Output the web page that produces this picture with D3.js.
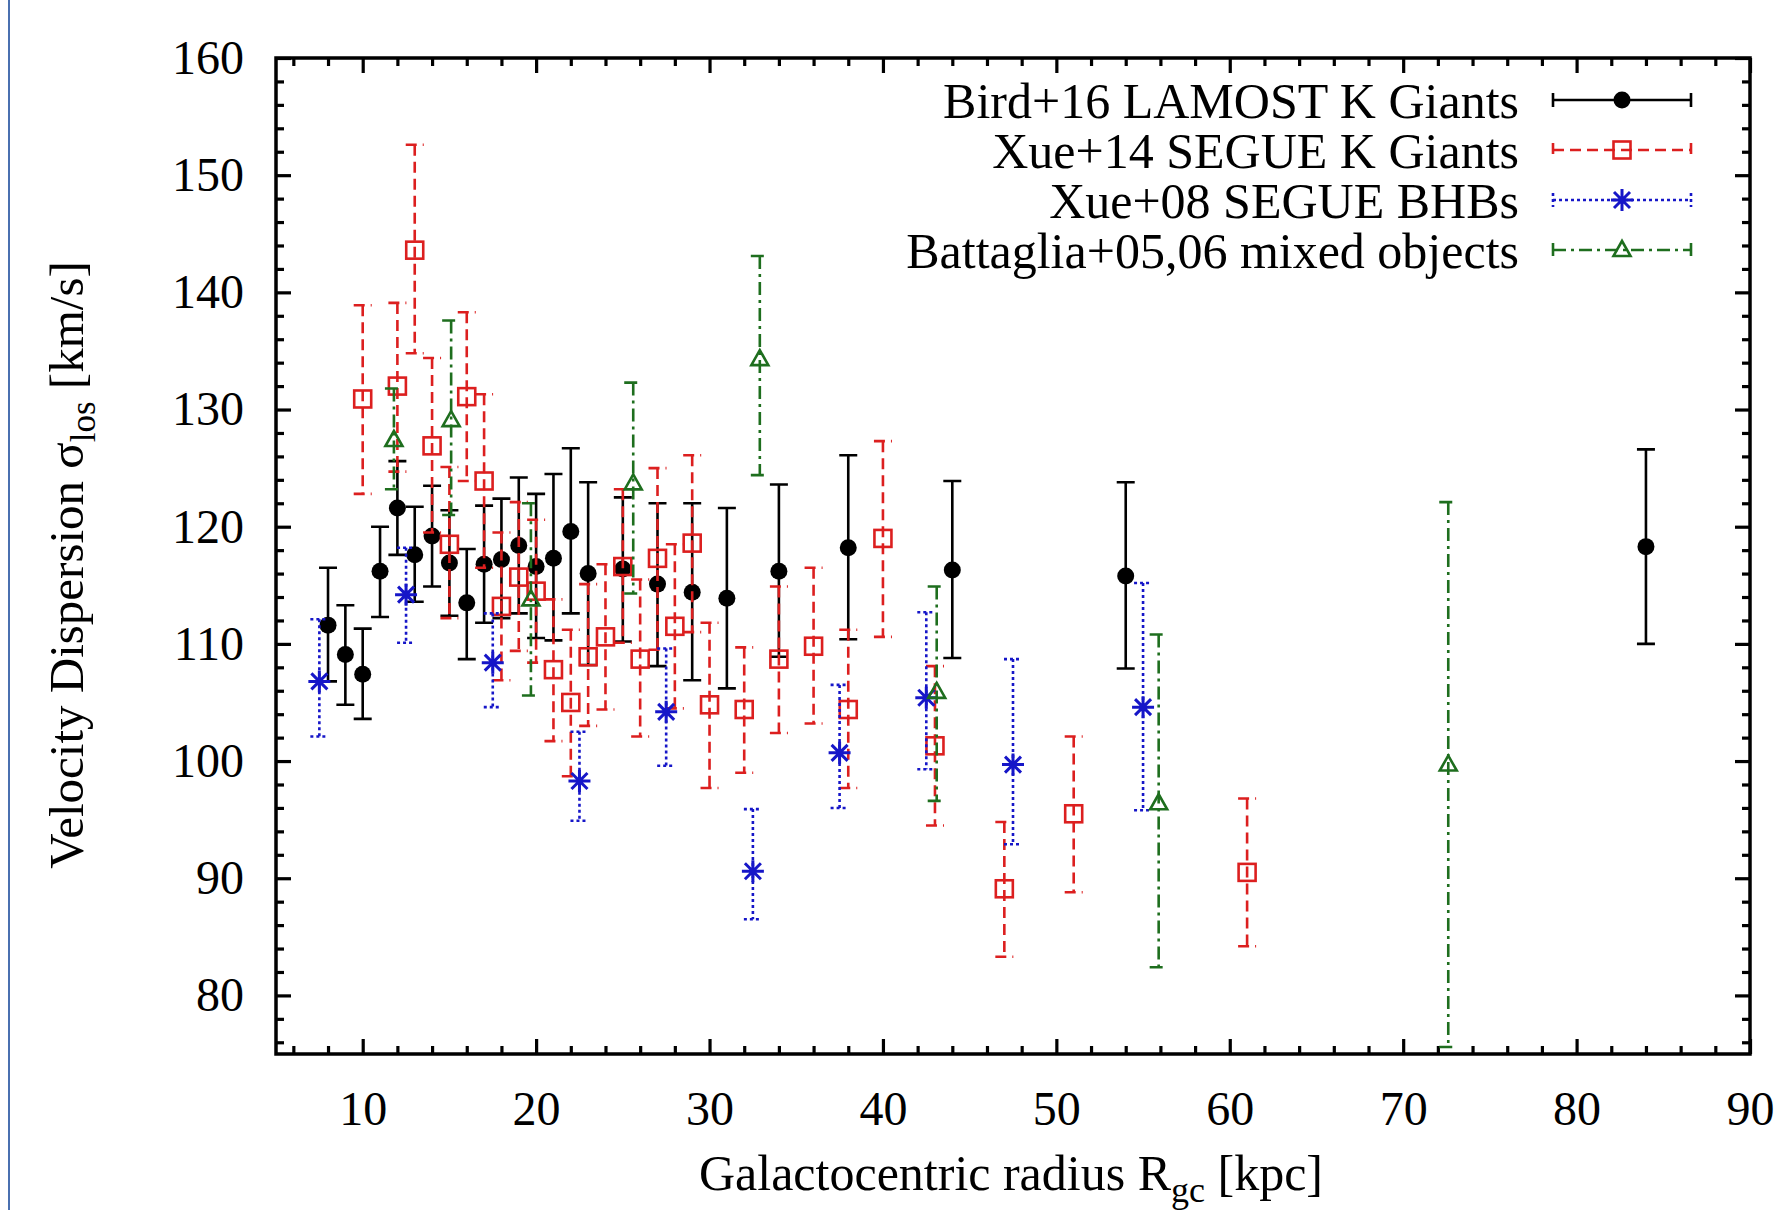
<!DOCTYPE html>
<html>
<head>
<meta charset="utf-8">
<script src="https://cdnjs.cloudflare.com/ajax/libs/d3/7.8.5/d3.min.js"></script>
<style>
body { margin: 0; background: #fff; }
text { font-family: "Liberation Serif", "Times New Roman", "DejaVu Serif", serif; }
</style>
</head>
<body>
<script>
//Width and height
var w = 1780;
var h = 1210;
var margin = {left: 276, right: 30, top: 58, bottom: 156};

//Bird+16 LAMOST K Giants
var birdR  = [8, 9, 10, 11, 12, 13, 14, 15, 16, 17, 18, 19, 20, 21, 22, 23, 25, 27, 29, 31, 34, 38, 44, 54, 84];
var birdS  = [111.6, 109.1, 107.4, 116.2, 121.6, 117.6, 119.2, 116.9, 113.5, 116.8, 117.2, 118.4, 116.6, 117.3, 119.6, 116.0, 116.4, 115.1, 114.4, 113.9, 116.2, 118.2, 116.3, 115.8, 118.3];
var birdHi = [116.5, 113.3, 111.3, 120.0, 125.6, 121.7, 123.5, 121.4, 118.1, 121.8, 122.4, 124.2, 122.8, 124.5, 126.7, 123.8, 122.5, 122.0, 122.0, 121.6, 123.6, 126.1, 123.9, 123.8, 126.6];
var birdLo = [106.8, 104.8, 103.6, 112.3, 117.6, 113.6, 114.9, 112.4, 108.7, 111.8, 112.2, 112.6, 110.5, 110.3, 112.6, 108.2, 110.2, 108.1, 106.9, 106.2, 108.9, 110.4, 108.8, 107.9, 110.0];

//Xue+14 SEGUE K Giants
var xue14R  = [10, 12, 13, 14, 15, 16, 17, 18, 19, 20, 21, 22, 23, 24, 25, 26, 27, 28, 29, 30, 32, 34, 36, 38, 40, 43, 47, 51, 61];
var xue14S  = [130.9, 132.0, 143.6, 126.9, 118.5, 131.1, 123.9, 113.2, 115.7, 114.5, 107.8, 105.0, 108.9, 110.6, 116.6, 108.7, 117.3, 111.5, 118.6, 104.8, 104.4, 108.7, 109.8, 104.4, 119.0, 101.3, 89.1, 95.5, 90.5];
var xue14Hi = [138.9, 139.1, 152.6, 134.4, 125.1, 138.3, 131.3, 119.5, 122.1, 120.6, 113.8, 111.2, 115.1, 116.8, 123.2, 115.5, 125.0, 118.5, 126.1, 111.8, 109.7, 114.9, 116.5, 111.2, 127.3, 108.1, 94.8, 102.1, 96.8];
var xue14Lo = [122.8, 124.7, 134.8, 119.5, 112.2, 123.9, 116.5, 106.9, 109.4, 108.4, 101.7, 98.7, 103.0, 104.4, 110.1, 102.1, 109.5, 104.5, 111.0, 97.7, 99.0, 102.4, 103.2, 97.7, 110.6, 94.5, 83.3, 88.8, 84.2];

//Xue+08 SEGUE BHBs
var xue08R  = [7.5, 12.5, 17.5, 22.5, 27.5, 32.5, 37.5, 42.5, 47.5, 55];
var xue08S  = [106.8, 114.2, 108.4, 98.3, 104.2, 90.6, 100.7, 105.4, 99.7, 104.6];
var xue08Hi = [112.1, 118.2, 112.6, 102.5, 109.6, 95.9, 106.5, 112.7, 108.7, 115.2];
var xue08Lo = [102.1, 110.1, 104.6, 94.9, 99.6, 86.5, 96.0, 99.3, 92.9, 95.8];

//Battaglia+05,06 mixed objects
var battR  = [11.8, 15.1, 19.7, 25.6, 32.9, 43.1, 55.9, 72.6];
var battS  = [127.4, 129.1, 113.8, 123.7, 134.3, 105.9, 96.4, 99.7];
var battHi = [131.8, 137.6, 122.0, 132.3, 143.1, 114.9, 110.8, 122.1];
var battLo = [123.2, 121.0, 105.6, 114.3, 124.4, 96.6, 82.4, 75.6];

var legendLabels = ["Bird+16 LAMOST K Giants", "Xue+14 SEGUE K Giants", "Xue+08 SEGUE BHBs", "Battaglia+05,06 mixed objects"];

var xTicks = [10, 20, 30, 40, 50, 60, 70, 80, 90];
var yTicks = [80, 90, 100, 110, 120, 130, 140, 150, 160];
var xMinor = [6, 8, 12, 14, 16, 18, 22, 24, 26, 28, 32, 34, 36, 38, 42, 44, 46, 48, 52, 54, 56, 58, 62, 64, 66, 68, 72, 74, 76, 78, 82, 84, 86, 88];
var yMinor = [76, 78, 82, 84, 86, 88, 92, 94, 96, 98, 102, 104, 106, 108, 112, 114, 116, 118, 122, 124, 126, 128, 132, 134, 136, 138, 142, 144, 146, 148, 152, 154, 156, 158];

var xScale = d3.scaleLinear()
    .domain([5, 90])
    .range([margin.left, w - margin.right]);

var yScale = d3.scaleLinear()
    .domain([75, 160])
    .range([h - margin.bottom, margin.top]);

var x0 = xScale.range()[0], x1 = xScale.range()[1];
var y0 = yScale.range()[0], y1 = yScale.range()[1];

//Create SVG element
var svg = d3.select("body")
    .append("svg")
    .attr("width", w)
    .attr("height", h);

svg.append("rect").attr("width", w).attr("height", h).attr("fill", "#fff");

//blue page border on the left
svg.append("line")
    .attr("x1", 9).attr("x2", 9)
    .attr("y1", 0).attr("y2", h)
    .attr("stroke", "#4a70b0")
    .attr("stroke-width", 2);

svg.append("clipPath").attr("id", "plotclip")
    .append("rect")
    .attr("x", x0).attr("y", y1)
    .attr("width", x1 - x0).attr("height", y0 - y1);

//axes: inward ticks on all four sides
function styleAxis(g) {
    g.select(".domain").remove();
    g.selectAll(".tick line").attr("stroke", "#000").attr("stroke-width", 3.2);
    g.selectAll("text")
        .attr("fill", "#000")
        .attr("font-size", 48)
        .attr("font-family", "Liberation Serif, Times New Roman, serif");
}

svg.append("g")
    .attr("transform", "translate(0," + y0 + ")")
    .call(d3.axisBottom(xScale).tickValues(xTicks).tickSize(-15).tickPadding(37).tickFormat(d3.format("d")))
    .call(styleAxis);
svg.append("g")
    .attr("transform", "translate(0," + y0 + ")")
    .call(d3.axisBottom(xScale).tickValues(xMinor).tickSize(-8).tickFormat(""))
    .call(styleAxis);
svg.append("g")
    .attr("transform", "translate(0," + y1 + ")")
    .call(d3.axisTop(xScale).tickValues(xTicks).tickSize(-15).tickFormat(""))
    .call(styleAxis);
svg.append("g")
    .attr("transform", "translate(0," + y1 + ")")
    .call(d3.axisTop(xScale).tickValues(xMinor).tickSize(-8).tickFormat(""))
    .call(styleAxis);

svg.append("g")
    .attr("transform", "translate(" + x0 + ",0)")
    .call(d3.axisLeft(yScale).tickValues(yTicks).tickSize(-15).tickPadding(32).tickFormat(d3.format("d")))
    .call(styleAxis);
svg.append("g")
    .attr("transform", "translate(" + x0 + ",0)")
    .call(d3.axisLeft(yScale).tickValues(yMinor).tickSize(-8).tickFormat(""))
    .call(styleAxis);
svg.append("g")
    .attr("transform", "translate(" + x1 + ",0)")
    .call(d3.axisRight(yScale).tickValues(yTicks).tickSize(-15).tickFormat(""))
    .call(styleAxis);
svg.append("g")
    .attr("transform", "translate(" + x1 + ",0)")
    .call(d3.axisRight(yScale).tickValues(yMinor).tickSize(-8).tickFormat(""))
    .call(styleAxis);

//frame
svg.append("rect")
    .attr("x", x0).attr("y", y1)
    .attr("width", x1 - x0).attr("height", y0 - y1)
    .attr("fill", "none")
    .attr("stroke", "#000")
    .attr("stroke-width", 3.5);

//markers
function drawMarker(g, type, color) {
    if (type === "circle") {
        g.append("circle").attr("r", 8.5).attr("fill", color);
    } else if (type === "square") {
        g.append("rect").attr("x", -8.5).attr("y", -8.5).attr("width", 17).attr("height", 17)
            .attr("fill", "none").attr("stroke", color).attr("stroke-width", 2.6);
    } else if (type === "star") {
        var a = 11, b = 8;
        g.append("path")
            .attr("d", "M0," + (-a) + "V" + a + "M" + (-a) + ",0H" + a +
                       "M" + (-b) + "," + (-b) + "L" + b + "," + b + "M" + (-b) + "," + b + "L" + b + "," + (-b))
            .attr("stroke", color).attr("stroke-width", 3).attr("fill", "none");
    } else if (type === "triangle") {
        g.append("path")
            .attr("d", "M0,-9L8.5,6L-8.5,6Z")
            .attr("fill", "none").attr("stroke", color).attr("stroke-width", 2.6);
    }
}

var series = [
    {r: birdR, s: birdS, hi: birdHi, lo: birdLo, color: "#000000", dash: null, marker: "circle"},
    {r: xue14R, s: xue14S, hi: xue14Hi, lo: xue14Lo, color: "#dc1f1f", dash: "11,6", marker: "square"},
    {r: xue08R, s: xue08S, hi: xue08Hi, lo: xue08Lo, color: "#1616c8", dash: "3,3", marker: "star"},
    {r: battR, s: battS, hi: battHi, lo: battLo, color: "#1e6e1e", dash: "13,5,3,5", marker: "triangle"}
];

var capW = 9;
var plot = svg.append("g").attr("clip-path", "url(#plotclip)");

series.forEach(function(ser) {
    var data = ser.r.map(function(d, i) {
        return {r: d, s: ser.s[i], hi: ser.hi[i], lo: ser.lo[i]};
    });

    var bars = plot.append("g")
        .attr("stroke", ser.color)
        .attr("stroke-width", 2.6)
        .attr("stroke-dasharray", ser.dash)
        .attr("fill", "none");

    bars.selectAll("path")
        .data(data)
        .enter()
        .append("path")
        .attr("d", function(d) {
            var x = xScale(d.r), yh = yScale(d.hi), yl = yScale(d.lo);
            return "M" + x + "," + yh + "V" + yl +
                   "M" + (x - capW) + "," + yh + "H" + (x + capW) +
                   "M" + (x - capW) + "," + yl + "H" + (x + capW);
        });

    plot.append("g").selectAll("g")
        .data(data)
        .enter()
        .append("g")
        .attr("transform", function(d) {
            return "translate(" + xScale(d.r) + "," + yScale(d.s) + ")";
        })
        .each(function() { drawMarker(d3.select(this), ser.marker, ser.color); });
});

//legend
var legend = svg.append("g");
series.forEach(function(ser, i) {
    var ly = 100 + i * 50;
    legend.append("text")
        .attr("x", 1519)
        .attr("y", ly)
        .attr("dy", "0.35em")
        .attr("text-anchor", "end")
        .attr("font-size", 50)
        .attr("fill", "#000")
        .text(legendLabels[i]);
    legend.append("path")
        .attr("d", "M1553," + ly + "H1691M1553," + (ly - 7) + "V" + (ly + 7) + "M1691," + (ly - 7) + "V" + (ly + 7))
        .attr("stroke", ser.color)
        .attr("stroke-width", 2.6)
        .attr("stroke-dasharray", ser.dash)
        .attr("fill", "none");
    drawMarker(legend.append("g").attr("transform", "translate(1622," + ly + ")"), ser.marker, ser.color);
});

//axis titles
var xt = svg.append("text")
    .attr("x", 1011)
    .attr("y", 1190)
    .attr("text-anchor", "middle")
    .attr("font-size", 50)
    .attr("fill", "#000");
xt.append("tspan").text("Galactocentric radius R");
xt.append("tspan").attr("dy", 12).attr("font-size", 36).text("gc");
xt.append("tspan").attr("dy", -12).text(" [kpc]");

var yt = svg.append("text")
    .attr("transform", "translate(83,565) rotate(-90)")
    .attr("text-anchor", "middle")
    .attr("font-size", 49)
    .attr("fill", "#000");
yt.append("tspan").text("Velocity Dispersion \u03c3");
yt.append("tspan").attr("dy", 12).attr("font-size", 35).text("los");
yt.append("tspan").attr("dy", -12).text("  [km/s]");
</script>
</body>
</html>
